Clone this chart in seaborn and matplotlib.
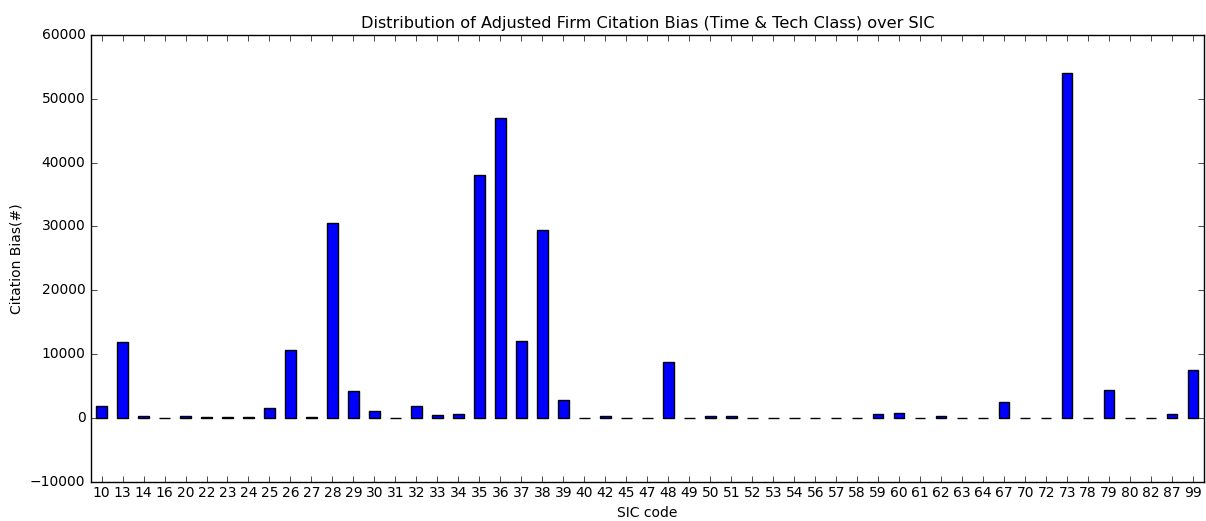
import matplotlib
matplotlib.use("Agg")
import matplotlib.pyplot as plt
import seaborn as sns
import pandas as pd

# SIC codes and adjusted firm citation bias per code
sic_codes = ["10", "13", "14", "16", "20", "22", "23", "24", "25", "26", "27", "28",
             "29", "30", "31", "32", "33", "34", "35", "36", "37", "38", "39", "40",
             "42", "45", "47", "48", "49", "50", "51", "52", "53", "54", "56", "57",
             "58", "59", "60", "61", "62", "63", "64", "67", "70", "72", "73", "78",
             "79", "80", "82", "87", "99"]
citation_bias = [1900, 11900, 300, 60, 300, 100, 100, 100, 1500, 10700, 100, 30600,
                 4200, 1100, 60, 1900, 500, 650, 38000, 47000, 12100, 29500, 2800, 60,
                 250, 60, 60, 8800, 60, 250, 250, 60, 60, 60, 60, 60,
                 60, 650, 850, 60, 250, 60, 60, 2500, 60, 60, 54000, 60,
                 4400, 60, 60, 650, 7500]

df = pd.DataFrame({"SIC code": sic_codes, "Citation Bias(#)": citation_bias})

plt.style.use("classic")
plt.rcParams.update({
    "font.family": ["DejaVu Sans"],
    "font.size": 10,
    "figure.facecolor": "white",
    "savefig.facecolor": "white",
    "axes.facecolor": "white",
})

fig, ax = plt.subplots(figsize=(12.06, 5.21), dpi=100)
fig.subplots_adjust(left=0.0755, right=0.998, top=0.933, bottom=0.075)

sns.barplot(data=df, x="SIC code", y="Citation Bias(#)", order=sic_codes,
            color="#0000ff", saturation=1, edgecolor="black", linewidth=1,
            width=0.5, ax=ax)

n = len(sic_codes)
ax.set_xlim(-0.5, n - 0.5)
ax.set_ylim(-10000, 60000)
ax.set_yticks(range(-10000, 60001, 10000))
ax.tick_params(axis="both", direction="in", top=True, right=True, labelsize=10)
ax.tick_params(axis="x", pad=3)
ax.set_title("Distribution of Adjusted Firm Citation Bias (Time & Tech Class) over SIC",
             fontsize=11.6)
ax.set_xlabel("SIC code", fontsize=10, labelpad=4)
ax.set_ylabel("Citation Bias(#)", fontsize=10)
ax.grid(False)

fig.savefig("out.png", dpi=100)
